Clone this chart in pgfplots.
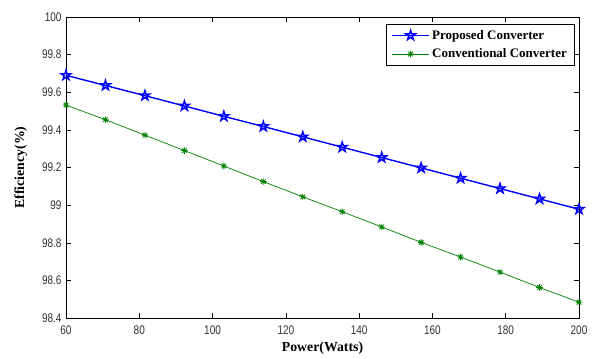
\documentclass[border=0pt]{standalone}
\usepackage{pgfplots}
\pgfplotsset{compat=1.18}
\usepackage{fontspec}
\setmainfont{Liberation Serif}
\newfontfamily\ticksf[FakeStretch=0.8]{Liberation Sans}
\usetikzlibrary{plotmarks}
\definecolor{mgreen}{RGB}{0,128,0}
\pgfdeclareplotmark{pentagram}{%
  \pgfpathmoveto{\pgfqpointpolar{90}{\pgfplotmarksize}}%
  \pgfpathlineto{\pgfqpointpolar{126}{0.382\pgfplotmarksize}}%
  \pgfpathlineto{\pgfqpointpolar{162}{\pgfplotmarksize}}%
  \pgfpathlineto{\pgfqpointpolar{198}{0.382\pgfplotmarksize}}%
  \pgfpathlineto{\pgfqpointpolar{234}{\pgfplotmarksize}}%
  \pgfpathlineto{\pgfqpointpolar{270}{0.382\pgfplotmarksize}}%
  \pgfpathlineto{\pgfqpointpolar{306}{\pgfplotmarksize}}%
  \pgfpathlineto{\pgfqpointpolar{342}{0.382\pgfplotmarksize}}%
  \pgfpathlineto{\pgfqpointpolar{18}{\pgfplotmarksize}}%
  \pgfpathlineto{\pgfqpointpolar{54}{0.382\pgfplotmarksize}}%
  \pgfpathclose
  \pgfusepathqstroke}
\pgfdeclareplotmark{mstar}{%
  \pgfpathmoveto{\pgfqpoint{-\pgfplotmarksize}{0pt}}\pgfpathlineto{\pgfqpoint{\pgfplotmarksize}{0pt}}%
  \pgfpathmoveto{\pgfqpoint{0pt}{-\pgfplotmarksize}}\pgfpathlineto{\pgfqpoint{0pt}{\pgfplotmarksize}}%
  \pgfpathmoveto{\pgfqpoint{-0.707\pgfplotmarksize}{-0.707\pgfplotmarksize}}\pgfpathlineto{\pgfqpoint{0.707\pgfplotmarksize}{0.707\pgfplotmarksize}}%
  \pgfpathmoveto{\pgfqpoint{-0.707\pgfplotmarksize}{0.707\pgfplotmarksize}}\pgfpathlineto{\pgfqpoint{0.707\pgfplotmarksize}{-0.707\pgfplotmarksize}}%
  \pgfusepathqstroke}
\begin{document}
\begin{tikzpicture}
\path (-66pt,-38pt) rectangle (529pt,318pt);
\begin{axis}[
  scale only axis,
  width=513pt, height=301pt,
  xmin=60, xmax=200, ymin=98.4, ymax=100,
  xtick={60,80,...,200},
  ytick={98.4,98.6,...,100},
  yticklabels={98.4,98.6,98.8,99,99.2,99.4,99.6,99.8,100},
  tick align=inside,
  tick pos=both,
  major tick length=5pt,
  tick style={black, line width=0.5pt},
  axis line style={black, line width=0.6pt},
  ticklabel style={font=\ticksf\fontsize{12.5}{14}\selectfont, text=black!80},
  yticklabel style={xshift=-1pt},
  xticklabel style={yshift=-4pt},
  /pgf/number format/assume math mode=true,
  xlabel={\textbf{Power(Watts)}},
  ylabel={\textbf{Efficiency(\%)}},
  label style={font=\fontsize{13.8}{15}\selectfont},
  xlabel style={yshift=-1pt},
  ylabel style={yshift=8pt},
  legend style={at={(rel axis cs:0.9905,0.977)}, anchor=north east, draw=black, line width=0.5pt,
    font=\bfseries\fontsize{13}{15}\selectfont, inner xsep=5pt, inner ysep=4pt, row sep=4pt,
    legend cell align=left},
  legend image code/.code={%
    \draw[#1] (0cm,0cm) -- (1.33cm,0cm);
    \draw[#1, only marks] plot coordinates {(0.665cm,0cm)};},
]
\addplot[blue, line width=1.4pt, mark=pentagram, mark options={solid, line width=1.5pt}, mark size=5pt] coordinates {
(60,99.69) (70.77,99.636) (81.54,99.582) (92.31,99.527) (103.08,99.472) (113.85,99.418) (124.62,99.363) (135.38,99.308) (146.15,99.253) (156.92,99.198) (167.69,99.143) (178.46,99.088) (189.23,99.033) (200,98.978)
};
\addlegendentry{Proposed Converter}
\addplot[mgreen, line width=0.7pt, mark=mstar, mark size=3.3pt, mark options={line width=0.8pt}] coordinates {
(60,99.532) (70.77,99.454) (81.54,99.372) (92.31,99.29) (103.08,99.208) (113.85,99.125) (124.62,99.044) (135.38,98.965) (146.15,98.884) (156.92,98.802) (167.69,98.724) (178.46,98.644) (189.23,98.562) (200,98.484)
};
\addlegendentry{Conventional Converter}
\end{axis}
\end{tikzpicture}
\end{document}
